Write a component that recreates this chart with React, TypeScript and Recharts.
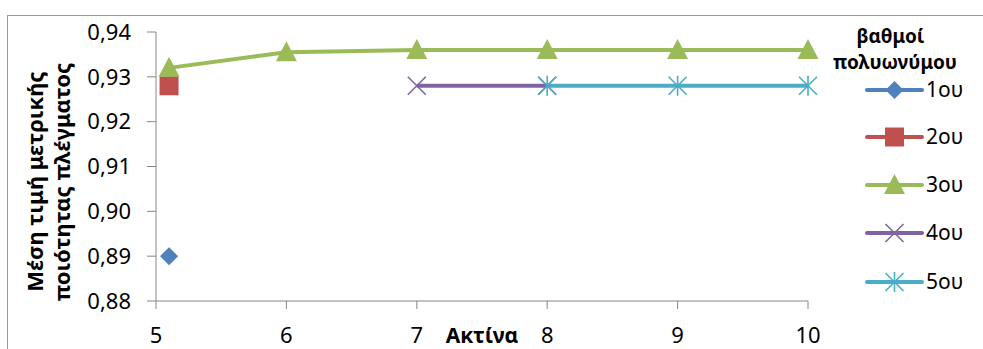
import { LineChart, Line, XAxis, YAxis, Label } from "recharts";

// x = ακτίνα, y = μέση τιμή μετρικής ποιότητας
const radiusTicks = [5, 6, 7, 8, 9, 10];
const qualityTicks = [0.88, 0.89, 0.9, 0.91, 0.92, 0.93, 0.94];

const deg1X = [5.1];
const deg1Y = [0.89];
const deg2X = [5.1];
const deg2Y = [0.928];
const deg3X = [5.1, 6, 7, 8, 9, 10];
const deg3Y = [0.932, 0.9355, 0.936, 0.936, 0.936, 0.936];
const deg4X = [7, 8];
const deg4Y = [0.928, 0.928];
const deg5X = [8, 9, 10];
const deg5Y = [0.928, 0.928, 0.928];

const names = ["1ου", "2ου", "3ου", "4ου", "5ου"];
const colors = ["#4F81BD", "#C0504D", "#9BBB59", "#8064A2", "#4BACC6"];
const shapes = ["diamond", "square", "triangle", "cross", "star"];

const toPoints = (xs: number[], ys: number[]) => xs.map((x, i) => ({ x, y: ys[i] }));

const series = [
  toPoints(deg1X, deg1Y),
  toPoints(deg2X, deg2Y),
  toPoints(deg3X, deg3Y),
  toPoints(deg4X, deg4Y),
  toPoints(deg5X, deg5Y),
].map((data, i) => ({ data, name: names[i], color: colors[i], shape: shapes[i] }));

const FONT = "'Noto Sans', 'Open Sans', sans-serif";

function Marker({ cx, cy, shape, color }: { cx: number; cy: number; shape: string; color: string }) {
  if (shape === "diamond") {
    return <polygon points={`${cx},${cy - 9} ${cx + 9},${cy} ${cx},${cy + 9} ${cx - 9},${cy}`} fill={color} />;
  }
  if (shape === "square") {
    return <rect x={cx - 9.5} y={cy - 9.5} width={19} height={19} fill={color} />;
  }
  if (shape === "triangle") {
    return <polygon points={`${cx},${cy - 11} ${cx + 10.5},${cy + 9} ${cx - 10.5},${cy + 9}`} fill={color} />;
  }
  if (shape === "cross") {
    return (
      <g stroke={color} strokeWidth={1.6}>
        <line x1={cx - 9} y1={cy - 9} x2={cx + 9} y2={cy + 9} />
        <line x1={cx - 9} y1={cy + 9} x2={cx + 9} y2={cy - 9} />
      </g>
    );
  }
  return (
    <g stroke={color} strokeWidth={1.6}>
      <line x1={cx - 9} y1={cy - 9} x2={cx + 9} y2={cy + 9} />
      <line x1={cx - 9} y1={cy + 9} x2={cx + 9} y2={cy - 9} />
      <line x1={cx} y1={cy - 10} x2={cx} y2={cy + 10} />
    </g>
  );
}

function LegendBox() {
  const rows = [90, 137, 185, 233, 282];
  return (
    <svg
      width={163}
      height={300}
      style={{ position: "absolute", left: 820, top: 0, overflow: "visible" }}
    >
      <text x={70.5} y={43} textAnchor="middle" fontSize={19} fontWeight="bold" fontFamily={FONT} fill="#000">
        βαθμοί
      </text>
      <text x={75} y={69} textAnchor="middle" fontSize={19} fontWeight="bold" fontFamily={FONT} fill="#000">
        πολυωνύμου
      </text>
      {series.map((s, i) => (
        <g key={s.name}>
          <line x1={47} y1={rows[i]} x2={102} y2={rows[i]} stroke={s.color} strokeWidth={4} strokeLinecap="round" />
          <Marker cx={74.5} cy={rows[i]} shape={s.shape} color={s.color} />
          <text x={106} y={rows[i] + 7} fontSize={21} fontFamily={FONT} fill="#000">
            {s.name}
          </text>
        </g>
      ))}
    </svg>
  );
}

export default function App() {
  return (
    <div
      style={{
        position: "fixed",
        left: 0,
        top: 0,
        width: 983,
        height: 349,
        overflow: "hidden",
        background: "#fff",
        fontFamily: FONT,
      }}
    >
      <div
        style={{
          position: "absolute",
          left: 7,
          top: 15,
          width: 1100,
          height: 400,
          border: "1px solid #9a9a9a",
        }}
      />
      <div style={{ position: "absolute", left: 0, top: 0 }}>
        <LineChart width={983} height={349} margin={{ top: 32, right: 175, bottom: 0, left: 0 }}>
          <XAxis
            type="number"
            dataKey="x"
            domain={[5, 10]}
            ticks={radiusTicks}
            interval={0}
            height={48}
            stroke="#868686"
            tickSize={8}
            tickMargin={18}
            fontSize={22}
            tick={{ fill: "#000", fontSize: 22, fontFamily: FONT }}
          >
            <Label
              content={({ viewBox }: any) => (
                <text
                  x={viewBox.x + viewBox.width / 2}
                  y={viewBox.y + 42}
                  textAnchor="middle"
                  fontSize={21}
                  fontWeight="bold"
                  fontFamily={FONT}
                  fill="#000"
                >
                  Ακτίνα
                </text>
              )}
            />
          </XAxis>
          <YAxis
            type="number"
            dataKey="y"
            domain={[0.88, 0.94]}
            ticks={qualityTicks}
            interval={0}
            width={156}
            stroke="#868686"
            tickSize={9}
            tickMargin={16}
            fontSize={22}
            allowDataOverflow
            tick={{ fill: "#000", fontSize: 22, fontFamily: FONT }}
            tickFormatter={(v: number) => v.toFixed(2).replace(".", ",")}
          >
            <Label
              content={() => (
                <g fontSize={22} fontWeight="bold" fontFamily={FONT} fill="#000">
                  <text x={43} y={181.5} textAnchor="middle" transform="rotate(-90 43 181.5)">
                    Μέση τιμή μετρικής
                  </text>
                  <text x={70} y={182} textAnchor="middle" transform="rotate(-90 70 182)">
                    ποιότητας πλέγματος
                  </text>
                </g>
              )}
            />
          </YAxis>
          {series.map((s) => (
            <Line
              key={s.name}
              data={s.data}
              dataKey="y"
              name={s.name}
              type="linear"
              stroke={s.color}
              strokeWidth={4}
              isAnimationActive={false}
              dot={(p: any) => <Marker key={p.index} cx={p.cx} cy={p.cy} shape={s.shape} color={s.color} />}
              activeDot={false}
            />
          ))}
        </LineChart>
      </div>
      <LegendBox />
    </div>
  );
}
